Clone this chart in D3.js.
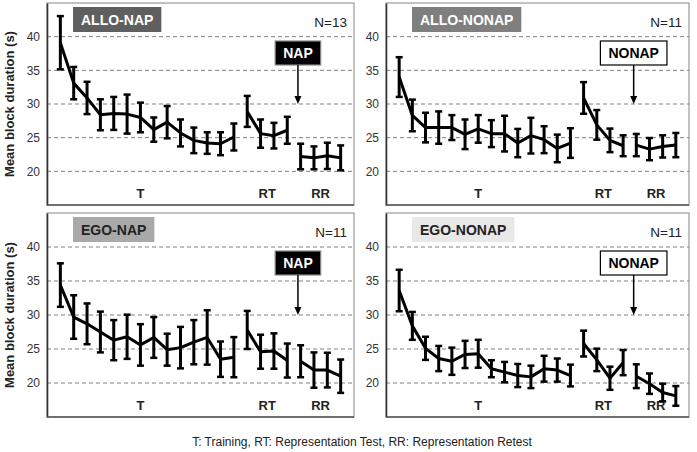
<!DOCTYPE html>
<html><head><meta charset="utf-8">
<script src="https://cdn.jsdelivr.net/npm/d3@7"></script>
<style>body{margin:0;background:#fff}svg{display:block}</style>
</head><body>
<svg id="c" width="697" height="452"></svg>
<script>
// Block indices: 0-13 Training (T), 14-17 Representation Test (RT), 18-21 Representation Retest (RR)
const phases = [
  {label: "T",  start: 0,  end: 13, labelAt: 6},
  {label: "RT", start: 14, end: 17, labelAt: 15.5},
  {label: "RR", start: 18, end: 21, labelAt: 19.5}
];
const yTicks = [20, 25, 30, 35, 40];
const panelNames = ["ALLO-NAP", "ALLO-NONAP", "EGO-NAP", "EGO-NONAP"];
const panelN = ["N=13", "N=11", "N=11", "N=11"];
const conditionLabels = ["NAP", "NONAP", "NAP", "NONAP"];

const alloNapMean = [39.1,33.1,30.9,28.4,28.6,28.5,28.0,26.2,27.3,25.7,24.6,24.2,24.1,25.1, 28.9,25.6,25.3,26.1, 22.2,22.0,22.3,22.0];
const alloNapSE   = [3.95,2.4,2.4,2.3,2.45,2.9,2.2,1.8,2.4,2.0,1.9,1.6,1.7,2.0, 2.3,2.1,1.9,2.0, 1.9,1.7,1.95,1.85];
const alloNonapMean = [34.0,28.3,26.5,26.5,26.5,25.5,26.3,25.6,25.6,24.2,25.3,24.7,23.4,24.2, 30.9,26.9,24.6,23.8, 23.9,23.3,23.7,23.9];
const alloNonapSE   = [2.95,2.35,2.2,2.4,1.85,2.2,2.05,2.0,2.65,2.1,2.65,2.0,2.05,2.2, 2.35,2.2,1.75,1.55, 1.65,1.65,1.65,1.8];
const egoNapMean = [34.4,29.7,28.7,27.5,26.3,26.8,25.6,26.7,24.9,25.2,26.0,26.7,23.5,23.8, 27.8,24.6,24.7,23.3, 23.2,21.9,21.9,21.0];
const egoNapSE   = [3.2,3.2,3.0,3.0,2.95,3.25,3.05,3.0,2.35,3.05,3.25,4.0,2.6,2.95, 2.8,2.5,2.6,2.5, 2.35,2.6,2.55,2.45];
const egoNonapMean = [33.6,28.4,25.1,23.6,23.2,24.2,24.3,22.1,21.6,21.1,20.9,22.1,21.9,21.1, 25.8,23.4,20.7,23.0, 21.0,19.9,18.6,18.1];
const egoNonapSE   = [3.05,2.05,1.7,1.85,2.0,2.0,2.05,1.25,1.5,1.7,1.65,1.9,1.7,1.6, 1.9,1.65,1.7,1.85, 1.75,1.5,1.3,1.45];

const means = [alloNapMean, alloNonapMean, egoNapMean, egoNonapMean];
const ses = [alloNapSE, alloNonapSE, egoNapSE, egoNonapSE];

const boxFill = ["#5f5f5f", "#7f7f7f", "#a9a9a9", "#e8e8e8"];
const boxText = ["#ffffff", "#ffffff", "#222222", "#222222"];
const condFill = ["#000000", "#ffffff", "#000000", "#ffffff"];
const condText = ["#ffffff", "#000000", "#ffffff", "#000000"];
const condStroke = ["#888888", "#000000", "#888888", "#000000"];

const geom = [
  {x0: 47, x1: 354, y0: 3, y1: 205},
  {x0: 386, x1: 689, y0: 3, y1: 205},
  {x0: 47, x1: 354, y0: 213, y1: 417},
  {x0: 386, x1: 689, y0: 213, y1: 417}
];

const font = "'Liberation Sans', Arial, sans-serif";
const svg = d3.select("#c");

geom.forEach((g, p) => {
  const x = d3.scaleLinear().domain([-1, 22]).range([g.x0, g.x1]);
  const y = d3.scaleLinear().domain([15, 45]).range([g.y1, g.y0]);
  const gp = svg.append("g");

  // frame
  gp.append("rect").attr("x", g.x0).attr("y", g.y0).attr("width", g.x1 - g.x0).attr("height", g.y1 - g.y0)
    .attr("fill", "none").attr("stroke", "#9a9a9a").attr("stroke-width", 1.2);

  // grid
  gp.selectAll(".grid").data(yTicks).enter().append("line")
    .attr("x1", g.x0).attr("x2", g.x1).attr("y1", d => y(d)).attr("y2", d => y(d))
    .attr("stroke", "#808080").attr("stroke-width", 1).attr("stroke-dasharray", "4,3");

  // y axis
  const ax = gp.append("g").attr("transform", `translate(${g.x0},0)`)
    .call(d3.axisLeft(y).tickValues(yTicks).tickSize(0).tickPadding(7));
  ax.select(".domain").attr("stroke", "#333").attr("stroke-width", 1.6);
  ax.selectAll("text").attr("font-family", font).attr("font-size", 12).attr("fill", "#333");
  // bottom axis line
  gp.append("line").attr("x1", g.x0).attr("x2", g.x1).attr("y1", g.y1).attr("y2", g.y1)
    .attr("stroke", "#555").attr("stroke-width", 1.4);

  const m = means[p], s = ses[p];

  // lines per phase
  const line = d3.line().x(d => x(d.i)).y(d => y(d.v));
  phases.forEach(ph => {
    const pts = d3.range(ph.start, ph.end + 1).map(i => ({i, v: m[i]}));
    gp.append("path").attr("d", line(pts)).attr("fill", "none").attr("stroke", "#000")
      .attr("stroke-width", 3).attr("stroke-linejoin", "round");
    gp.append("text").attr("x", x(ph.labelAt)).attr("y", y(16)).attr("text-anchor", "middle")
      .attr("font-family", font).attr("font-weight", "bold").attr("font-size", 13).attr("fill", "#222")
      .text(ph.label);
  });

  // error bars
  const eb = gp.selectAll(".eb").data(m.map((v, i) => ({i, v, e: s[i]}))).enter().append("g");
  eb.append("line").attr("x1", d => x(d.i)).attr("x2", d => x(d.i))
    .attr("y1", d => y(d.v + d.e)).attr("y2", d => y(d.v - d.e)).attr("stroke", "#000").attr("stroke-width", 3);
  [1, -1].forEach(sg => {
    eb.append("line").attr("x1", d => x(d.i) - 3.5).attr("x2", d => x(d.i) + 3.5)
      .attr("y1", d => y(d.v + sg * d.e)).attr("y2", d => y(d.v + sg * d.e))
      .attr("stroke", "#000").attr("stroke-width", 2.5);
  });

  // title box
  const bx = g.x0 + 26;
  const trect = gp.append("rect").attr("x", bx).attr("y", g.y0 + 4).attr("height", 25).attr("fill", boxFill[p]);
  const tt = gp.append("text").attr("font-family", font).attr("font-weight", "bold").attr("font-size", 14)
    .attr("fill", boxText[p]).attr("text-anchor", "middle").text(panelNames[p]);
  const bw = tt.node().getComputedTextLength() + 16;
  trect.attr("width", bw);
  tt.attr("x", bx + bw / 2).attr("y", g.y0 + 21.5);

  // N
  gp.append("text").attr("x", g.x1 - 7).attr("y", g.y0 + 24).attr("text-anchor", "end")
    .attr("font-family", font).attr("font-size", 13.5).attr("fill", "#222").text(panelN[p]);

  // condition box + arrow
  const cx = x(17.8);
  const cy0 = g.y0 + 38, ch = 24;
  const crect = gp.append("rect").attr("y", cy0).attr("height", ch)
    .attr("fill", condFill[p]).attr("stroke", condStroke[p]).attr("stroke-width", 1.2);
  const ct = gp.append("text").attr("font-family", font).attr("font-weight", "bold").attr("font-size", 14)
    .attr("fill", condText[p]).attr("text-anchor", "middle").text(conditionLabels[p]);
  const cw = ct.node().getComputedTextLength() + 16;
  crect.attr("x", cx - cw / 2).attr("width", cw);
  ct.attr("x", cx).attr("y", cy0 + 17);
  const tip = y(30);
  gp.append("line").attr("x1", cx).attr("x2", cx).attr("y1", cy0 + ch).attr("y2", tip - 6)
    .attr("stroke", "#000").attr("stroke-width", 1.5);
  gp.append("path").attr("d", `M${cx - 3.5},${tip - 8} L${cx + 3.5},${tip - 8} L${cx},${tip} Z`).attr("fill", "#000");
});

// y-axis titles
[[10, 104], [10, 315]].forEach(([tx, ty]) => {
  svg.append("text").attr("transform", `translate(${tx + 4},${ty}) rotate(-90)`).attr("text-anchor", "middle")
    .attr("font-family", font).attr("font-weight", "bold").attr("font-size", 13).attr("fill", "#222")
    .text("Mean block duration (s)");
});

// caption
svg.append("text").attr("x", 362).attr("y", 446).attr("text-anchor", "middle")
  .attr("font-family", font).attr("font-size", 12).attr("fill", "#222")
  .text("T: Training, RT: Representation Test, RR: Representation Retest");
</script>
</body></html>
